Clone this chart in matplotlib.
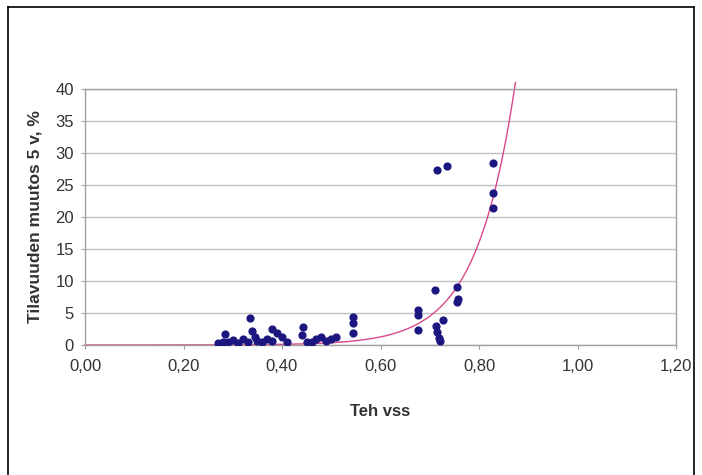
import numpy as np
import matplotlib
matplotlib.use("Agg")
import matplotlib.pyplot as plt
from matplotlib.lines import Line2D

plt.rcParams['font.family'] = ['Liberation Sans', 'DejaVu Sans']

# Observed data: Teh vss vs volume change (%)
teh_vss = [0.27, 0.28, 0.285, 0.29, 0.30, 0.31, 0.32, 0.33, 0.335, 0.34, 0.345, 0.35,
           0.36, 0.37, 0.38, 0.38, 0.39, 0.40, 0.41, 0.44, 0.443, 0.45, 0.46, 0.47,
           0.48, 0.49, 0.50, 0.51,
           0.545, 0.545, 0.545,
           0.676, 0.676, 0.676,
           0.711, 0.712, 0.715, 0.718, 0.72, 0.727,
           0.715, 0.735,
           0.755, 0.755, 0.757,
           0.828, 0.828, 0.828]
muutos = [0.3, 0.5, 1.7, 0.4, 0.8, 0.3, 0.9, 0.5, 4.2, 2.2, 1.2, 0.7,
          0.4, 1.0, 2.5, 0.6, 1.8, 1.2, 0.5, 1.5, 2.8, 0.5, 0.4, 0.9,
          1.2, 0.6, 1.0, 1.3,
          4.4, 3.5, 1.8,
          5.5, 4.7, 2.3,
          8.6, 3.0, 2.0, 1.1, 0.6, 3.9,
          27.4, 27.9,
          9.1, 6.7, 7.2,
          28.4, 23.7, 21.4]

# Exponential trendline y = a * exp(b * x)
trend_a = 0.00062
trend_b = 12.7
trend_xmax = 0.874

x_ticks = [0.0, 0.2, 0.4, 0.6, 0.8, 1.0, 1.2]
x_tick_labels = ["0,00", "0,20", "0,40", "0,60", "0,80", "1,00", "1,20"]
y_ticks = [0, 5, 10, 15, 20, 25, 30, 35, 40]

fig = plt.figure(figsize=(7.02, 4.75), dpi=100)
W, H = 702, 475
ax = fig.add_axes([85 / W, 1 - 345 / H, (676 - 85) / W, (345 - 89) / H])

# Outer frame (open at bottom)
frame_kw = dict(color="black", lw=1.2, transform=fig.transFigure)
fig.add_artist(Line2D([8 / W, 8 / W], [0, 1 - 7 / H], **frame_kw))
fig.add_artist(Line2D([694 / W, 694 / W], [0, 1 - 7 / H], **frame_kw))
fig.add_artist(Line2D([8 / W, 694 / W], [1 - 7 / H, 1 - 7 / H], **frame_kw))

ax.set_xlim(0, 1.2)
ax.set_ylim(0, 40)
ax.set_xticks(x_ticks)
ax.set_xticklabels(x_tick_labels)
ax.set_yticks(y_ticks)
ax.yaxis.grid(True, color="#c0c0c0", lw=1.0)
ax.set_axisbelow(True)
for s in ax.spines.values():
    s.set_color("#a0a0a0")
    s.set_linewidth(1.0)
ax.tick_params(axis="both", colors="#a0a0a0", labelcolor="#333333",
               labelsize=12, length=3, width=0.8)
ax.tick_params(axis="x", pad=7)
ax.tick_params(axis="y", pad=5)

xs = np.linspace(0, trend_xmax, 300)
ax.plot(xs, trend_a * np.exp(trend_b * xs), color="#d9488a", lw=1.0,
        clip_on=False, zorder=2)
ax.scatter(teh_vss, muutos, s=24, marker="o", color="#1c1780", zorder=3)

ax.set_xlabel("Teh vss", fontsize=12, fontweight="bold", color="#333333", labelpad=22)
ax.set_ylabel("Tilavuuden muutos 5 v, %", fontsize=12.5, fontweight="bold",
              color="#333333", labelpad=9)

fig.savefig("out.png", dpi=100)
